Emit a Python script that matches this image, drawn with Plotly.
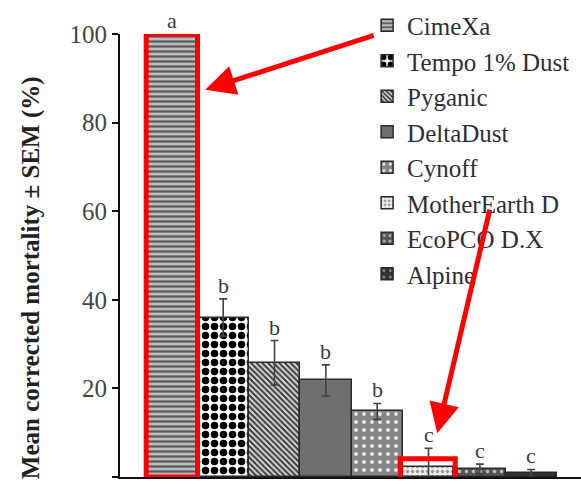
import plotly.graph_objects as go

# Treatments, mean corrected mortality (%) and standard error of the mean
treatments = ["CimeXa", "Tempo 1% Dust", "Pyganic", "DeltaDust",
              "Cynoff", "MotherEarth D", "EcoPCO D.X", "Alpine"]
mortality = [100.0, 36.0, 25.8, 21.8, 14.8, 2.3, 1.8, 0.8]
sem = [0.0, 4.2, 5.0, 3.5, 1.8, 4.2, 1.1, 0.9]
groups = ["a", "b", "b", "b", "b", "c", "c", "c"]

# Fill pattern for each treatment: (shape, fg, bg, size, solidity)
patterns = [
    ("-", "#5a5a5a", "#bdbdbd", 5, 0.45),
    (".", "#000000", "#ffffff", 9, 0.55),
    ("\\", "#3a3a3a", "#d8d8d8", 4, 0.5),
    ("", "#6f6f6f", "#6f6f6f", 8, 0.3),
    (".", "#e8e8e8", "#858585", 8, 0.18),
    (".", "#9a9a9a", "#ececec", 5, 0.35),
    (".", "#bbbbbb", "#555555", 7, 0.2),
    (".", "#8a8a8a", "#333333", 8, 0.15),
]

SERIF = "Liberation Serif"
TEXT = "#2e2e3a"

fig = go.Figure()
for name, m, s, (shape, fg, bg, size, sol) in zip(treatments, mortality, sem, patterns):
    fig.add_trace(go.Bar(
        x=[name], y=[m], name=name, width=1.0,
        marker=dict(
            color=bg,
            line=dict(color="#2a2a2a", width=1.5),
            pattern=dict(shape=shape, fgcolor=fg, bgcolor=bg, size=size,
                         solidity=sol, fillmode="replace"),
        ),
        error_y=dict(type="data", array=[s], visible=s > 0,
                     color="#444444", thickness=1.6, width=4),
    ))

# Significance letters above each error bar
for name, m, s, g in zip(treatments, mortality, sem, groups):
    fig.add_annotation(x=name, y=m + s, text=g, showarrow=False,
                       yanchor="bottom", yshift=-1,
                       font=dict(family=SERIF, size=22, color="#3a3a48"))

# Highlight boxes around CimeXa and MotherEarth D
fig.add_shape(type="rect", xref="x", yref="y", x0=-0.5, x1=0.5, y0=0, y1=100,
              line=dict(color="#ff0000", width=5), layer="above")
fig.add_shape(type="rect", xref="x", yref="y", x0=4.45, x1=5.52, y0=-0.6, y1=4.1,
              line=dict(color="#ff0000", width=5), layer="above")

# Pointer arrows from the legend to the highlighted bars
fig.add_annotation(x=0.65, y=87.4, ax=3.96, ay=99.8, xref="x", yref="y",
                   axref="x", ayref="y", text="", showarrow=True,
                   arrowhead=2, arrowsize=1.2, arrowwidth=5, arrowcolor="#ff0000")
fig.add_annotation(x=5.17, y=9.9, ax=6.2, ay=60.7, xref="x", yref="y",
                   axref="x", ayref="y", text="", showarrow=True,
                   arrowhead=2, arrowsize=1.2, arrowwidth=5, arrowcolor="#ff0000")

# Y-axis title
fig.add_annotation(xref="paper", yref="paper", x=0, y=0.485, xshift=-105,
                   yshift=-16,
                   text="<b>Mean corrected mortality ± SEM (%)</b>",
                   textangle=-90, showarrow=False,
                   font=dict(family=SERIF, size=25, color="#222222"))

fig.update_layout(
    width=581, height=485,
    margin=dict(l=120, r=0, t=34, b=8),
    paper_bgcolor="white", plot_bgcolor="white",
    barmode="overlay", bargap=0,
    showlegend=True,
    legend=dict(x=0.536, y=1.071, xanchor="left", yanchor="top",
                maxheight=440,
                font=dict(family=SERIF, size=25, color=TEXT),
                bgcolor="rgba(0,0,0,0)", itemclick=False),
    xaxis=dict(type="category", range=[-1.01, 7.97], showticklabels=False,
               ticks="", showline=True, linecolor="#111111", linewidth=2,
               showgrid=False, zeroline=False),
    yaxis=dict(range=[0, 100], tickvals=[0, 20, 40, 60, 80, 100],
               ticks="outside", ticklen=6, tickwidth=2, tickcolor="#111111",
               showline=True, linecolor="#111111", linewidth=2,
               showgrid=False, zeroline=False,
               tickfont=dict(family=SERIF, size=25, color="#444444")),
)

fig.write_html("out.html")
